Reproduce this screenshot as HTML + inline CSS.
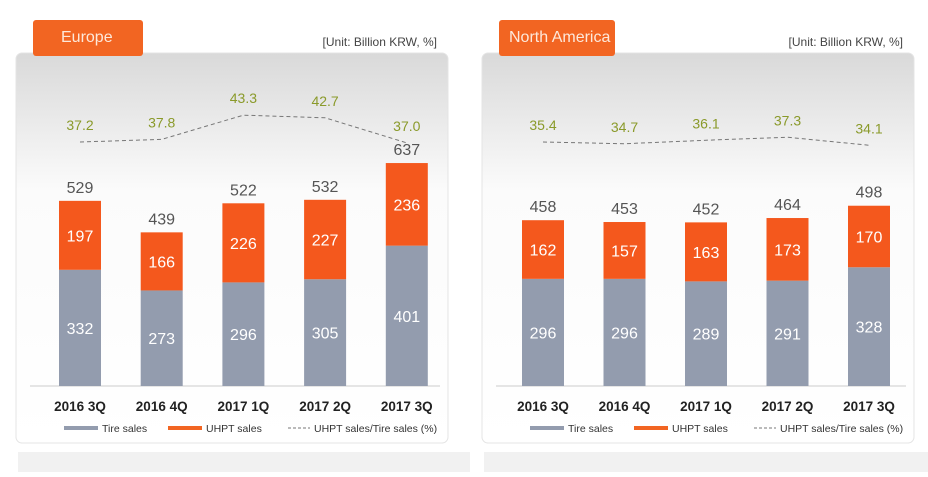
<!DOCTYPE html>
<html><head><meta charset="utf-8"><style>
body{margin:0;width:928px;height:472px;background:#fff;overflow:hidden;font-family:"Liberation Sans","Noto Sans CJK SC",sans-serif}
</style></head><body>
<svg id="s" width="928" height="472" xmlns="http://www.w3.org/2000/svg">
<defs><linearGradient id="g" x1="0" y1="0" x2="0" y2="1"><stop offset="0" stop-color="#d9d9d9"/><stop offset="0.35" stop-color="#fbfbfb"/><stop offset="1" stop-color="#fff"/></linearGradient></defs>
</svg>
<script>
const categories=["2016 3Q","2016 4Q","2017 1Q","2017 2Q","2017 3Q"];
const euTire=[332,273,296,305,401];
const euUhpt=[197,166,226,227,236];
const euTotal=[529,439,522,532,637];
const euRatio=[37.2,37.8,43.3,42.7,37.0];
const naTire=[296,296,289,291,328];
const naUhpt=[162,157,163,173,170];
const naTotal=[458,453,452,464,498];
const naRatio=[35.4,34.7,36.1,37.3,34.1];
const svg=document.getElementById('s');const NS="http://www.w3.org/2000/svg";
function mk(t,a,txt){const e=document.createElementNS(NS,t);for(const k in a)e.setAttribute(k,a[k]);if(txt!=null)e.textContent=txt;svg.appendChild(e);return e;}
function panel(p){
 const ox=p.ox;
 let e=mk('rect',{x:ox+16,y:53,width:432,height:390,rx:6,fill:'url(#g)',stroke:'#e4e4e4'});
 
 e=mk('rect',{x:ox+33,y:20,width:p.tw,height:36,rx:3,fill:'#f26522'});
 
 e=mk('text',{x:ox+p.tx,y:42,fill:'#fde8da','font-size':16},p.title);
 
 e=mk('text',{x:ox+437,y:46,fill:'#444','font-size':12,'text-anchor':'end'},'[Unit: Billion KRW, %]');
 
 e=mk('rect',{x:ox+18,y:452,width:452,height:20,fill:'#f1f1f1'});
 
 const base=386;const xs=i=>ox+p.x0+i*p.dx;const h=v=>v*p.k;
 e=mk('line',{x1:ox+30,x2:ox+440,y1:base,y2:base,stroke:'#ccc'});
 
 const ly=v=>p.ly0-(v-p.r0)*p.rk;
 let pts=p.ratio.map((v,i)=>xs(i)+','+ly(v)).join(' ');
 e=mk('polyline',{points:pts,fill:'none',stroke:'#777','stroke-dasharray':'4,3','stroke-width':1});
 
 categories.forEach((c,i)=>{
  const x=xs(i),w=42;
  const ht=h(p.tire[i]),hu=h(p.uhpt[i]);
  let r=mk('rect',{x:x-w/2,y:base-ht,width:w,height:ht,fill:'#939cae'});
  
  r=mk('rect',{x:x-w/2,y:base-ht-hu,width:w,height:hu,fill:'#f4581d'});
  
  let t=mk('text',{x:x,y:base-ht/2+6,fill:'#fff','font-size':16,'text-anchor':'middle'},p.tire[i]);
  
  t=mk('text',{x:x,y:base-ht-hu/2+6,fill:'#fff','font-size':16,'text-anchor':'middle'},p.uhpt[i]);
  
  t=mk('text',{x:x,y:base-h(p.total[i])-8,fill:'#555','font-size':16,'text-anchor':'middle'},p.total[i]);
  
  t=mk('text',{x:x,y:ly(p.ratio[i])-12,fill:'#8a9a2a','font-size':14,'text-anchor':'middle'},p.ratio[i].toFixed(1));
  
  t=mk('text',{x:x,y:411,fill:'#222','font-size':13.5,'font-weight':'bold','text-anchor':'middle'},c);
  
 });
 const L=[[ox+64,'#939cae','Tire sales','rect'],[ox+168,'#f26522','UHPT sales','rect'],[ox+288,'#777','UHPT sales/Tire sales (%)','dash']];
 L.forEach((l,j)=>{
  let m=l[3]=='rect'?mk('rect',{x:l[0],y:426,width:34,height:4,fill:l[1]}):mk('line',{x1:l[0],x2:l[0]+22,y1:428,y2:428,stroke:l[1],'stroke-dasharray':'3,2'});
  
  let t=mk('text',{x:l[0]+(l[3]=='rect'?38:26),y:432,fill:'#333','font-size':10.5},l[2]);
  
 });
}
panel({id:'europe',ox:0,title:'Europe',tx:61,tw:110,x0:80,dx:81.7,k:0.35,tire:euTire,uhpt:euUhpt,total:euTotal,ratio:euRatio,ly0:142,r0:37.2,rk:4.4});
panel({id:'north-america',ox:466,title:'North America',tx:43,tw:116,x0:77,dx:81.5,k:0.362,tire:naTire,uhpt:naUhpt,total:naTotal,ratio:naRatio,ly0:142,r0:35.4,rk:2.5});
</script>
</body></html>
